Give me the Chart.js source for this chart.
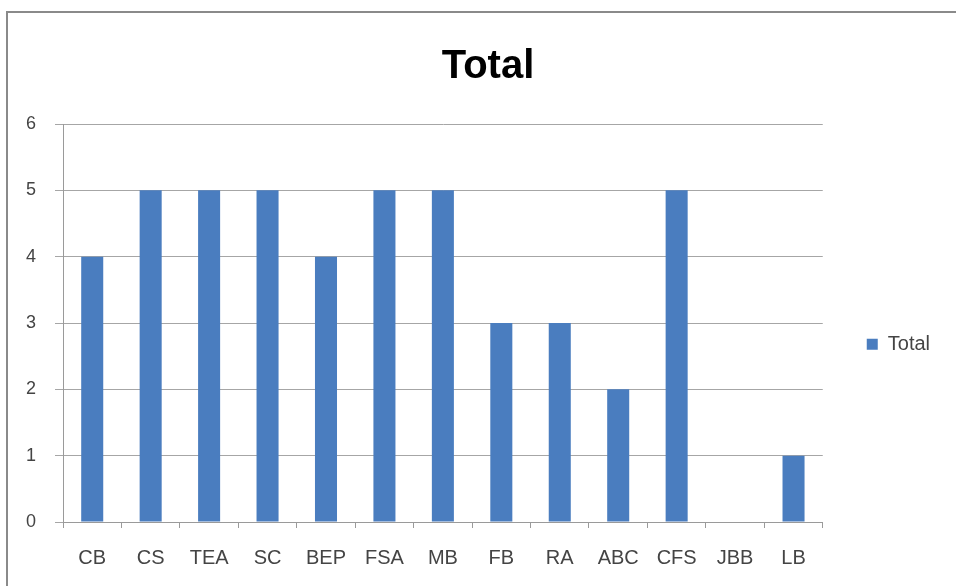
<!DOCTYPE html>
<html lang="en">
<head>
  <meta charset="UTF-8" />
  <title>Total</title>
  <script src="https://cdn.jsdelivr.net/npm/chart.js"></script>
  <style>
    * {
      box-sizing: border-box;
      margin: 0;
      padding: 0;
    }
    body {
      background: #fff;
      width: 956px;
      height: 586px;
      overflow: hidden;
    }
    #chart-box {
      position: absolute;
      left: 6px;
      top: 11px;
      width: 950px;
      height: 575px;
      border-left: 2px solid #8a8a8a;
      border-top: 2px solid #8a8a8a;
    }
    canvas {
      width: 100% !important;
      height: 100% !important;
    }
  </style>
</head>
<body>
  <div id="chart-box">
    <canvas id="totalChart"></canvas>
  </div>

  <script>
    const categories = ['CB', 'CS', 'TEA', 'SC', 'BEP', 'FSA', 'MB', 'FB', 'RA', 'ABC', 'CFS', 'JBB', 'LB'];
    const totals = [4, 5, 5, 5, 4, 5, 5, 3, 3, 2, 5, 0, 1];
    const yTicks = [0, 1, 2, 3, 4, 5, 6];

    const BAR_BLUE = '#4a7dbf';
    const TEXT_GRAY = '#444';
    const FONT = "'Liberation Sans', Arial, sans-serif";

    // the frame runs past the right edge, so the title sits a little right of the canvas middle
    const titleNudge = {
      id: 'titleNudge',
      afterLayout(chart) {
        const t = chart.titleBlock;
        if (t) {
          t.left += 14;
          t.right += 14;
        }
      }
    };

    const ctx = document.getElementById('totalChart').getContext('2d');
    new Chart(ctx, {
      type: 'bar',
      data: {
        labels: categories,
        datasets: [{
          label: 'Total',
          data: totals,
          backgroundColor: BAR_BLUE,
          borderWidth: 0,
          barPercentage: 0.377,
          categoryPercentage: 1
        }]
      },
      options: {
        responsive: true,
        maintainAspectRatio: false,
        animation: false,
        layout: {
          padding: { top: 0, left: 0, right: 16, bottom: 3 }
        },
        plugins: {
          title: {
            display: true,
            text: 'Total',
            color: '#000',
            font: { family: FONT, size: 40, weight: 'bold' },
            padding: { top: 30, bottom: 33 }
          },
          legend: {
            position: 'right',
            fullSize: false,
            // blank title only pushes the single entry a bit lower
            title: {
              display: true,
              text: ' ',
              font: { size: 12 },
              padding: 14
            },
            labels: {
              color: TEXT_GRAY,
              font: { family: FONT, size: 20 },
              boxWidth: 11,
              boxHeight: 11,
              padding: 44
            }
          },
          tooltip: { enabled: false }
        },
        scales: {
          x: {
            afterFit: axis => { axis.height -= 5; },
            grid: {
              drawOnChartArea: false,
              drawTicks: true,
              tickLength: 6,
              color: '#9a9a9a'
            },
            border: { color: '#9a9a9a' },
            ticks: {
              color: TEXT_GRAY,
              font: { family: FONT, size: 20 },
              padding: 18,
              maxRotation: 0,
              autoSkip: false
            }
          },
          y: {
            min: yTicks[0],
            max: yTicks[yTicks.length - 1],
            afterBuildTicks: axis => {
              axis.ticks = yTicks.map(v => ({ value: v }));
            },
            afterFit: axis => { axis.width = 55; },
            grid: {
              color: '#a6a6a6',
              tickLength: 8
            },
            border: { color: '#9a9a9a' },
            ticks: {
              color: TEXT_GRAY,
              font: { family: FONT, size: 18 },
              padding: 19
            }
          }
        }
      },
      plugins: [titleNudge]
    });
  </script>
</body>
</html>
